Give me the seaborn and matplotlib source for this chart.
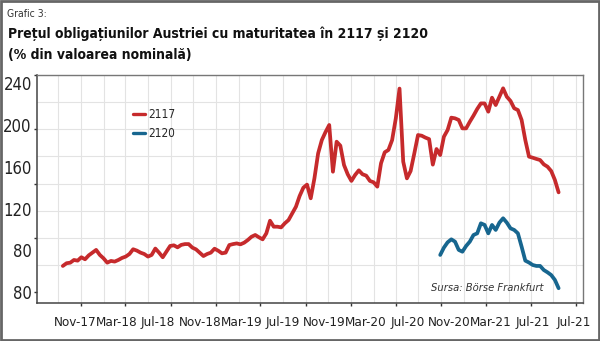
import numpy as np
import pandas as pd
import matplotlib
matplotlib.use("Agg")
import matplotlib.pyplot as plt
import matplotlib.dates as mdates
from matplotlib.patches import Rectangle
import seaborn as sns

# ---------------- data ----------------
series_names = ["2117", "2120"]

price_2117 = [
    99.4, 101.4, 101.8, 103.8, 103.3, 105.8, 104.3, 107.2, 109.2, 111.2,
    107.5, 105.0, 101.8, 103.1, 102.6, 103.8, 105.3, 106.3, 108.2, 111.7,
    110.7, 109.2, 108.2, 106.3, 107.5, 112.2, 109.2, 105.8, 110.0, 114.1,
    114.6, 113.1, 114.9, 115.5, 115.5, 112.9, 111.6, 109.2, 106.7, 108.2,
    109.2, 112.1, 110.6, 108.7, 109.2, 114.8, 115.5, 116.0, 115.3, 116.5,
    118.5, 120.9, 122.2, 120.5, 119.0, 123.4, 132.7, 128.3, 128.3, 127.8,
    130.8, 133.2, 138.1, 143.0, 150.9, 157.0, 159.3, 149.2, 163.9, 182.3,
    192.1, 198.0, 203.2, 168.8, 190.9, 188.0, 173.7, 166.9, 162.0, 166.4,
    169.8, 166.9, 165.9, 162.0, 161.0, 157.8, 175.0, 183.1, 184.8, 192.1,
    208.1, 230.0, 176.2, 163.9, 169.3, 182.3, 195.8, 195.3, 193.9, 192.8,
    174.0, 185.5, 181.1, 194.6, 199.5, 208.6, 208.1, 206.9, 200.7, 200.7,
    205.6, 210.1, 215.0, 219.1, 219.1, 213.0, 223.3, 217.9, 224.0, 230.2,
    224.0, 220.9, 215.5, 214.2, 206.9, 192.1, 179.9, 179.1, 178.2, 177.4,
    174.2, 172.5, 169.3, 162.7, 153.6,
]
price_2120 = [
    107.5, 112.9, 116.8, 119.0, 117.3, 111.2, 109.9, 114.1, 117.3, 122.2,
    123.4, 130.8, 129.6, 123.4, 129.6, 125.9, 131.3, 134.5, 131.3, 127.1,
    125.9, 123.4, 113.6, 103.3, 101.9, 100.1, 99.4, 99.4, 96.4, 94.7,
    92.7, 89.1, 83.0,
]
dates_2117 = pd.date_range("2017-09-13", periods=len(price_2117), freq="10D")
dates_2120 = pd.date_range("2020-06-29", periods=len(price_2120), freq="10D")

x_tick_labels = ["Nov-17", "Mar-18", "Jul-18", "Nov-18", "Mar-19", "Jul-19",
                 "Nov-19", "Mar-20", "Jul-20", "Nov-20", "Mar-21", "Jul-21", "Jul-21"]
y_tick_labels = ["240", "200", "160", "120", "80", "80"]

title_small = "Grafic 3:"
title_main = "Prețul obligațiunilor Austriei cu maturitatea în 2117 și 2120\n(% din valoarea nominală)"
source_text = "Sursa: Börse Frankfurt"

df = pd.concat([
    pd.DataFrame({"date": dates_2117, "value": price_2117, "series": series_names[0]}),
    pd.DataFrame({"date": dates_2120, "value": price_2120, "series": series_names[1]}),
], ignore_index=True)

# ---------------- style ----------------
sns.set_theme(style="white")
plt.rcParams["font.family"] = ["DejaVu Sans"]
plt.rcParams["font.stretch"] = "condensed"

RED = "#c62a2c"
BLUE = "#17668f"

fig = plt.figure(figsize=(6.0, 3.41), dpi=100)
ax = fig.add_axes([0.0622, 0.1106, 0.9095, 0.6694])

sns.lineplot(data=df, x="date", y="value", hue="series",
             palette={"2117": RED, "2120": BLUE}, linewidth=2.7,
             ax=ax, legend=True)

x_left = mdates.date2num(pd.Timestamp("2017-07-06"))
x_right = mdates.date2num(pd.Timestamp("2021-07-20"))
ax.set_xlim(x_left, x_right)
ax.set_ylim(71.9, 240)

# grid (every 2 months / every 20 units)
ax.xaxis.set_minor_locator(mdates.MonthLocator(bymonth=[1, 3, 5, 7, 9, 11]))
ax.set_yticks(np.arange(80, 241, 20), minor=True)
ax.grid(which="minor", color="#e3e3e3", linewidth=0.8)
ax.grid(which="major", visible=False)
ax.tick_params(which="minor", length=0)

# labels as drawn in the original (evenly spread)
x_lab_pos = x_left + np.linspace(0.0691, 0.9835, len(x_tick_labels)) * (x_right - x_left)
ax.set_xticks(x_lab_pos)
ax.set_xticklabels(x_tick_labels)
ax.set_yticks(np.linspace(233.9, 80, len(y_tick_labels)))
ax.set_yticklabels(y_tick_labels)
ax.tick_params(which="major", length=0, colors="#222222")
ax.tick_params(axis="x", labelsize=9.6, pad=9.5)
ax.tick_params(axis="y", labelsize=12, pad=4)

# small tick marks at the real positions
secx = ax.secondary_xaxis("bottom")
secx.xaxis.set_major_locator(mdates.MonthLocator(bymonth=[3, 7, 11]))
secx.tick_params(length=2.5, width=1, labelbottom=False, color="#333333")
secx.spines["bottom"].set_visible(False)
secy = ax.secondary_yaxis("left")
secy.set_yticks(np.arange(80, 241, 40))
secy.tick_params(length=2.5, width=1, labelleft=False, color="#333333")
secy.spines["left"].set_visible(False)

ax.set_xlabel("")
ax.set_ylabel("")
for side in ["left", "bottom"]:
    ax.spines[side].set_color("#444444")
    ax.spines[side].set_linewidth(1.1)
for side in ["top", "right"]:
    ax.spines[side].set_color("#777777")
    ax.spines[side].set_linewidth(1.0)

leg = ax.legend(loc="upper left", bbox_to_anchor=(0.155, 0.9), frameon=False,
                handlelength=1.05, handletextpad=0.25, labelspacing=0.5,
                fontsize=8.5)
for h in leg.get_lines():
    h.set_linewidth(2.4)

ax.text(0.927, 0.067, source_text, transform=ax.transAxes, ha="right", va="center",
        fontsize=8, style="italic", color="#333333")

fig.text(0.012, 0.958, title_small, fontsize=7.5, color="#333333", va="center")
fig.text(0.013, 0.871, title_main, fontsize=10, fontweight="bold", color="#111111",
         va="center", linespacing=1.6)

fig.add_artist(Rectangle((0.002, 0.003), 0.996, 0.994, transform=fig.transFigure,
                         fill=False, edgecolor="#666666", linewidth=2))

fig.savefig("out.png", dpi=100, facecolor="white")
